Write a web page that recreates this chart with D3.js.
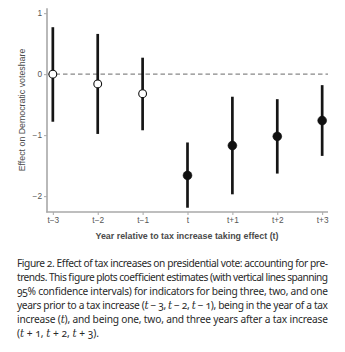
<!DOCTYPE html>
<html><head><meta charset="utf-8">
<script src="https://cdn.jsdelivr.net/npm/d3@7"></script>
<style>
html,body{margin:0;padding:0;background:#fff;}
svg{display:block;}
.cap{font-family:"Noto Sans",sans-serif;font-size:10.2px;fill:#2a2a2a;font-variant-numeric:oldstyle-nums;}
.m{font-family:"DejaVu Serif","Liberation Serif",serif;font-style:italic;}
</style></head>
<body>
<script>
const categories = ["t\u22123","t\u22122","t\u22121","t","t+1","t+2","t+3"];
const estimates  = [0, -0.16, -0.32, -1.66, -1.17, -1.02, -0.76];
const ciLower    = [-0.78, -0.98, -0.92, -2.19, -1.97, -1.63, -1.34];
const ciUpper    = [0.77, 0.66, 0.27, -1.12, -0.37, -0.41, -0.18];
const pretrend   = [true, true, true, false, false, false, false];
const yTicks     = [1, 0, -1, -2];
const yTickLabels= ["1", "0", "\u22121", "\u22122"];
const xTitle = "Year relative to tax increase taking effect (t)";
const yTitle = "Effect on Democratic voteshare";

const W = 345, H = 352;
const svg = d3.select("body").append("svg").attr("width", W).attr("height", H);

const x = d3.scalePoint().domain(categories).range([47, 328]).padding(0.13);
const y = d3.scaleLinear().domain([-2.26, 1.08]).range([212, 8.3]);

const axisColor = "#a8a8a8";
const sans = "Liberation Sans, Arial, sans-serif";
// left axis
const ya = svg.append("g").attr("transform", "translate(47,0)")
  .call(d3.axisLeft(y).tickValues(yTicks).tickFormat((d,i)=>yTickLabels[i]).tickSize(3).tickPadding(2));
ya.select(".domain").remove();
ya.selectAll(".tick line").attr("stroke", axisColor).attr("stroke-width", 1);
ya.selectAll(".tick text").attr("fill", "#555").style("font-family",sans).style("font-size","8.3px");
svg.append("line").attr("x1",47).attr("x2",47).attr("y1",y(1.08)).attr("y2",212.5)
  .attr("stroke",axisColor).attr("stroke-width",1.6);

// bottom axis
const xa = svg.append("g").attr("transform", "translate(0,212)")
  .call(d3.axisBottom(x).tickSize(3).tickPadding(2));
xa.select(".domain").remove();
xa.selectAll(".tick line").attr("stroke", axisColor).attr("stroke-width", 1);
xa.selectAll(".tick text").attr("fill", "#555").style("font-family",sans).style("font-size","8.3px");
svg.append("line").attr("x1",46.2).attr("x2",328).attr("y1",212).attr("y2",212)
  .attr("stroke",axisColor).attr("stroke-width",1.6);

// zero line
svg.append("line").attr("x1",48).attr("x2",328).attr("y1",y(0)).attr("y2",y(0))
  .attr("stroke","#888").attr("stroke-width",1.2).attr("stroke-dasharray","4.5,3");

// titles
svg.append("text").attr("x", 187).attr("y", 239).attr("text-anchor","middle")
  .style("font-family",sans).style("font-size","8.9px").style("font-weight","bold")
  .attr("fill","#4a4a4a").text(xTitle);
svg.append("text").attr("transform","translate(25,110) rotate(-90)").attr("text-anchor","middle")
  .style("font-family",sans).style("font-size","8.8px")
  .attr("fill","#4a4a4a").text(yTitle);

// CI lines
const data = categories.map((c,i)=>({c, est:estimates[i], lo:ciLower[i], hi:ciUpper[i], pre:pretrend[i]}));
svg.selectAll("line.ci").data(data).enter().append("line").attr("class","ci")
  .attr("x1", d=>x(d.c)).attr("x2", d=>x(d.c)).attr("y1", d=>y(d.lo)).attr("y2", d=>y(d.hi))
  .attr("stroke","#151515").attr("stroke-width",2.7);
svg.selectAll("circle.pt").data(data).enter().append("circle").attr("class","pt")
  .attr("cx", d=>x(d.c)).attr("cy", d=>y(d.est)).attr("r", d=>d.pre?3.9:4.4)
  .attr("fill", d=>d.pre?"#fff":"#111").attr("stroke","#111").attr("stroke-width", d=>d.pre?1.1:0.6);

// caption
const capLines = [
  [["Figure 2. Effect of tax increases on presidential vote: accounting for pre-"]],
  [["trends. This figure plots coefficient estimates (with vertical lines spanning"]],
  [["95% confidence intervals) for indicators for being three, two, and one"]],
  [["years prior to a tax increase ("],["t","m"],["\u00a0\u2212\u00a03, "],["t","m"],["\u00a0\u2212\u00a02, "],["t","m"],["\u00a0\u2212\u00a01), being in the year of a tax"]],
  [["increase ("],["t","m"],["), and being one, two, and three years after a tax increase"]],
  [["("],["t","m"],["\u00a0+\u00a01, "],["t","m"],["\u00a0+\u00a02, "],["t","m"],["\u00a0+\u00a03)."]]
];
const capX = 17, capW = 311, capY0 = 267, capLH = 13.9;
capLines.forEach((parts, i) => {
  const t = svg.append("text").attr("class","cap").attr("x",capX).attr("y",capY0 + i*capLH);
  parts.forEach(p => { const s = t.append("tspan").text(p[0]); if (p[1]) s.attr("class","m"); });
  if (i < capLines.length - 1) t.attr("textLength", capW).attr("lengthAdjust","spacing");
});
</script>
</body></html>
